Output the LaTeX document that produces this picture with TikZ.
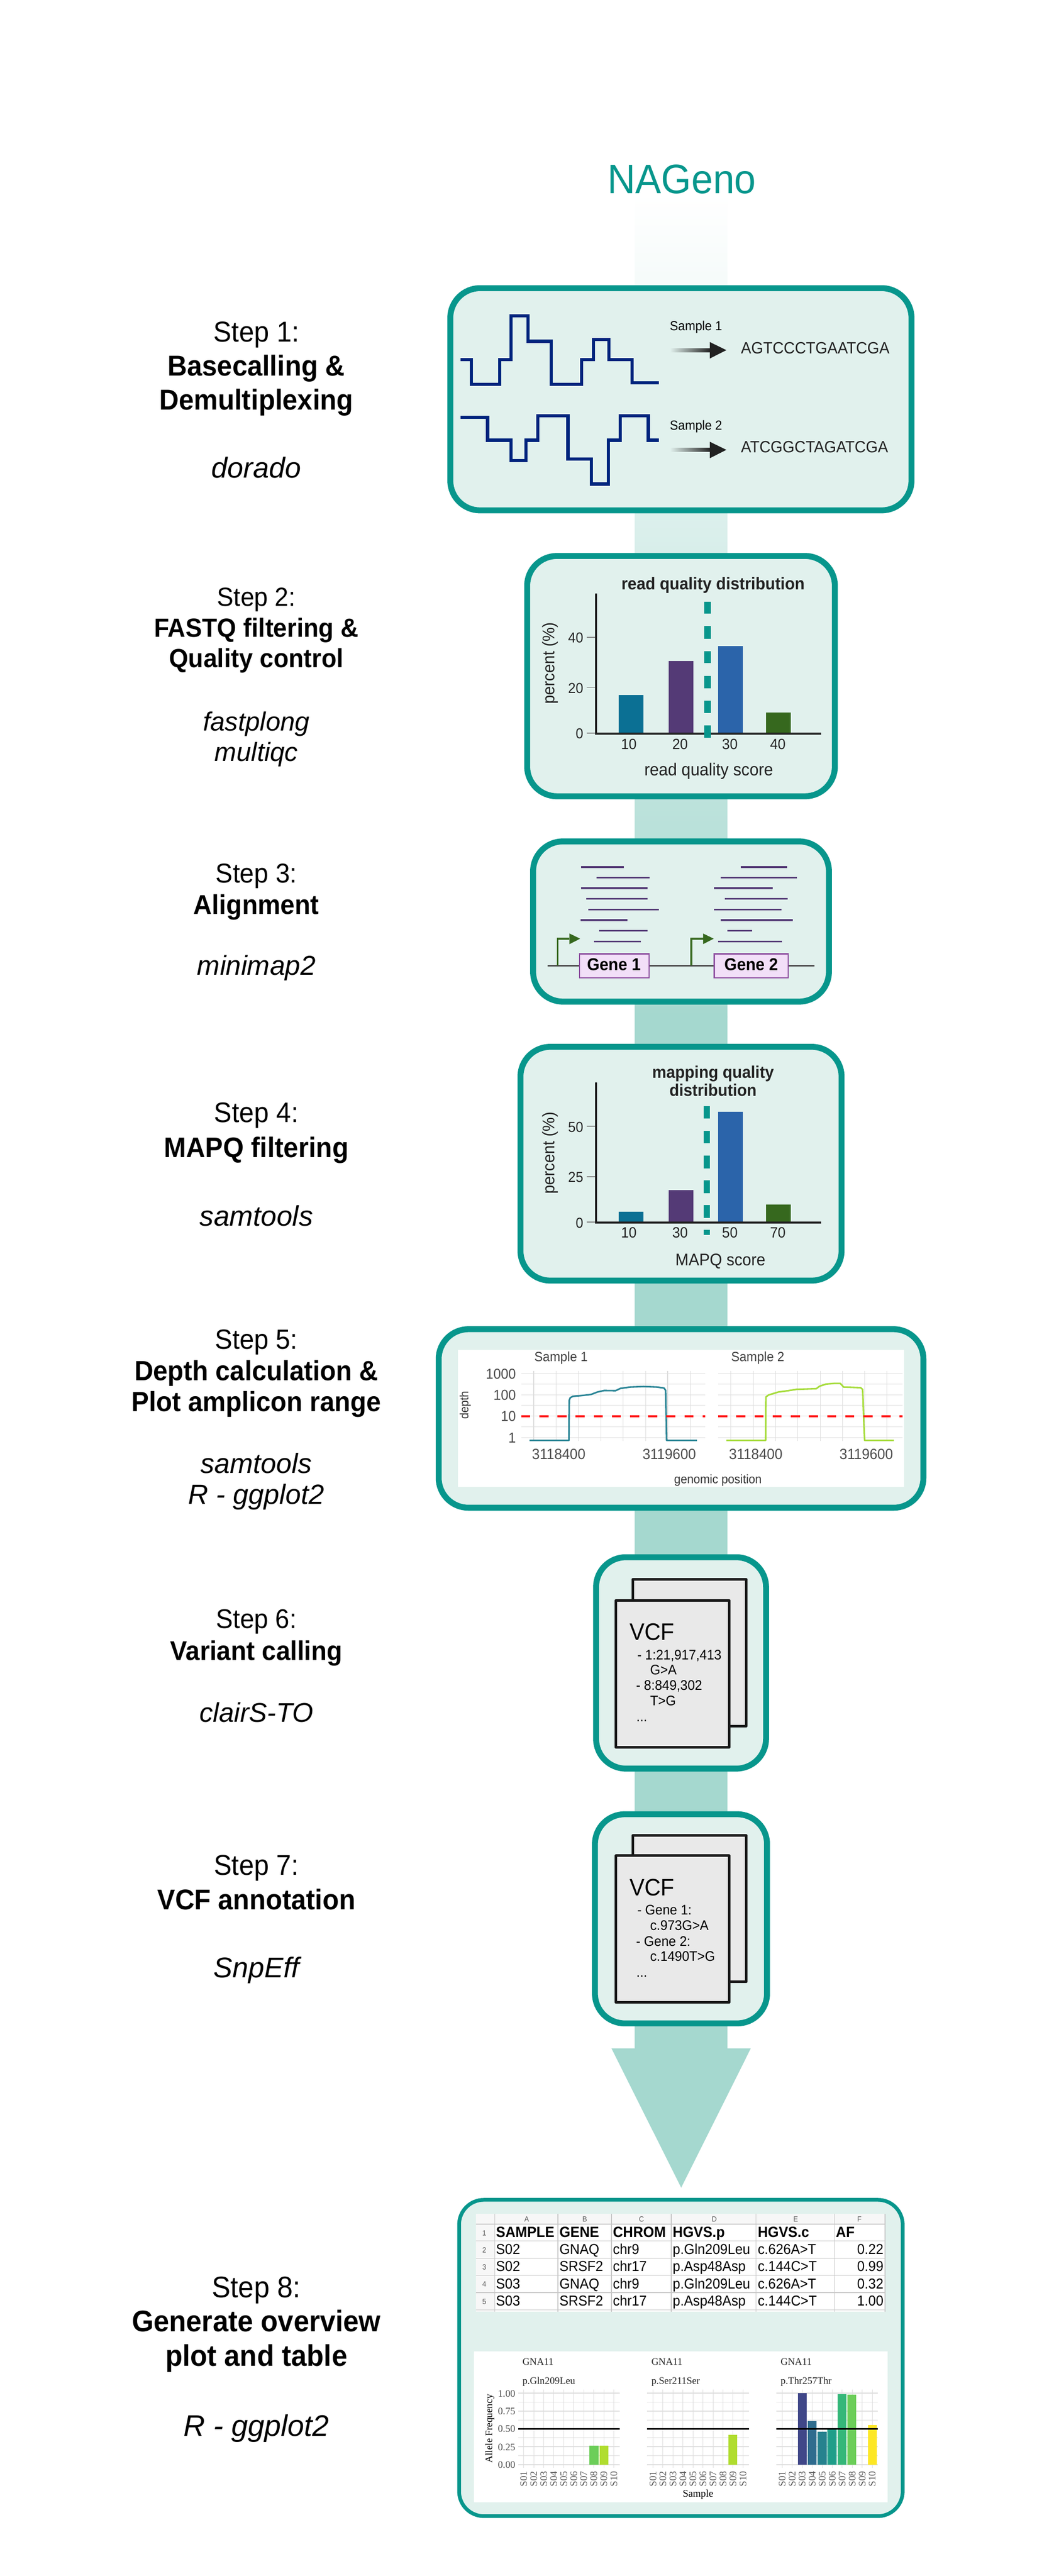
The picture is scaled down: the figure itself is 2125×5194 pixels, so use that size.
\documentclass[tikz,border=0pt]{standalone}
\usepackage{fontspec}
\setmainfont[FakeStretch=0.94]{Liberation Sans}
\newfontfamily\toolfont{Liberation Sans}
\newfontfamily\plotserif{Liberation Serif}
\newdimen\fdim \newdimen\fdimb \newdimen\pxu \pxu=0.2845pt
\newcommand\fpx[1]{\fdim=#1\pxu \fdimb=1.2\fdim \fontsize{\the\fdim}{\the\fdimb}\selectfont}
\newcommand\fpxl[2]{\fdim=#1\pxu \fdimb=#2\pxu \fontsize{\the\fdim}{\the\fdimb}\selectfont}
\newcommand\tool[1]{{\toolfont\itshape #1}}
\definecolor{tealc}{HTML}{07968C}
\definecolor{boxfill}{HTML}{E1F1ED}
\definecolor{barc}{HTML}{A5D8CF}
\definecolor{sig}{HTML}{00247D}
\definecolor{ink}{HTML}{222222}
\definecolor{b1}{HTML}{0B7094}
\definecolor{b2}{HTML}{543A76}
\definecolor{b3}{HTML}{2B64AA}
\definecolor{b4}{HTML}{36681E}
\definecolor{pagef}{HTML}{E9E9E9}
\definecolor{gridc}{HTML}{DDDDDD}
\definecolor{genef}{HTML}{F2DFF8}
\definecolor{gened}{HTML}{8E4FA0}
\definecolor{cov1}{HTML}{2A8596}
\definecolor{cov2}{HTML}{A6DC3C}
\definecolor{redl}{HTML}{FF1A1A}
\definecolor{v3}{HTML}{404788}
\definecolor{v4}{HTML}{2F6C8E}
\definecolor{v5}{HTML}{26828E}
\definecolor{v6}{HTML}{1F9E89}
\definecolor{v7}{HTML}{35B779}
\definecolor{v8}{HTML}{6CCE59}
\definecolor{v9}{HTML}{B0DD2F}
\definecolor{v10}{HTML}{FDE725}
\tikzset{
  lw/.style={line width=#1*0.2845pt},
  txt/.style={inner sep=0pt,outer sep=0pt},
  stepbox/.style={draw=tealc,fill=boxfill,rounded corners=0.6cm,lw=12,inner sep=0pt},
  axisline/.style={draw=ink,lw=4},
  tickline/.style={draw=gray,lw=1.5},
  vcfpage/.style={draw=black!90,fill=pagef,lw=5.2,line join=round},
  sigline/.style={draw=sig,lw=6.5,line join=miter},
  readline/.style={draw=b2,lw=3.5},
  smallarrow/.style={fill=ink},
  gridmajor/.style={draw=gridc,lw=1.6},
  gridminor/.style={draw=gridc,lw=1},
  tablegrid/.style={draw=black!22,lw=1.4},
  genebox/.style={fill=genef,draw=gened,lw=2.5},
}
% #2..#5 are the outer edges of the stroke, #7 the stroke width
\newcommand\boxnode[7][]{%
  \pgfmathsetmacro\bw{(#4-#2-#7)*0.01}\pgfmathsetmacro\bh{(#5-#3-#7)*0.01}%
  \node[stepbox,minimum width=\bw cm,minimum height=\bh cm,#1] (#6) at ({(#2+#4)/2},{(#3+#5)/2}) {};}
\newcommand\steplabel[5]{\node[txt,anchor=base] (#1) at (517,#2) {\fpxl{#3}{#4}\begin{tabular}[t]{@{}c@{}}#5\end{tabular}};}
\begin{document}
\begin{tikzpicture}[x=0.01cm,y=-0.01cm]
\useasboundingbox (0,0) rectangle (2125,5194);
\fill[white] (0,0) rectangle (2125,5194);
% central band
\coordinate (tip) at (1373.6,4411);
\shade[top color=white,bottom color=barc] (1280,390) rectangle (1467,2051);
\fill[barc] (1280,2050) -- (1467,2050) -- (1467,4130) -- (1514,4130) -- (tip) -- (1233,4130) -- (1280,4130) -- cycle;
\node[txt,anchor=base,text=tealc,font=\fpx{83}] (title) at (1375,390.5) {NAGeno};
% step labels
\steplabel{s1}{689}{58}{68.5}{Step 1:\\\textbf{Basecalling \&}\\\textbf{Demultiplexing}\\[68.5\pxu]\tool{dorado}}
\steplabel{s2}{1222}{53}{62}{Step 2:\\\textbf{FASTQ filtering \&}\\\textbf{Quality control}\\[65\pxu]\tool{fastplong}\\\tool{multiqc}}
\steplabel{s3}{1780}{55}{63}{Step 3:\\\textbf{Alignment}\\[60\pxu]\tool{minimap2}}
\steplabel{s4}{2262.5}{57}{71.5}{Step 4:\\\textbf{MAPQ filtering}\\[66.5\pxu]\tool{samtools}}
\steplabel{s5}{2720.5}{56}{62.5}{Step 5:\\\textbf{Depth calculation \&}\\\textbf{Plot amplicon range}\\[62.5\pxu]\tool{samtools}\\\tool{R - ggplot2}}
\steplabel{s6}{3283}{54.5}{64}{Step 6:\\\textbf{Variant calling}\\[61\pxu]\tool{clairS-TO}}
\steplabel{s7}{3780.7}{57.5}{70}{Step 7:\\\textbf{VCF annotation}\\[67\pxu]\tool{SnpEff}}
\steplabel{s8}{4632}{60}{69.5}{Step 8:\\\textbf{Generate overview}\\\textbf{plot and table}\\[71.5\pxu]\tool{R - ggplot2}}
% boxes
\boxnode{902}{575}{1844}{1035}{box1}{12}
\boxnode{1057}{1115}{1689.5}{1611.5}{box2}{12}
\boxnode{1069}{1690.5}{1677.5}{2025.5}{box3}{12}
\boxnode{1043.5}{2104.7}{1703}{2588}{box4}{12}
\boxnode{878.6}{2674}{1868}{3046}{box5}{12}
\boxnode{1196}{3133.8}{1550.7}{3572}{box6}{12}
\boxnode{1193.7}{3652}{1552.7}{4085.7}{box7}{12}
\boxnode[lw=7.5,rounded corners=0.5cm]{922}{4431.7}{1824}{5077}{box8}{7.5}
% box 1 content
\begin{scope}[shift={(850,280)},xscale=0.6697,yscale=0.5102]
\draw[sigline] (118,873)--(150,873)--(150,970)--(235,970)--(235,873)--(270,873)--(270,700)--(321,700)--(321,800)--(391,800)--(391,970)--(482,970)--(482,873)--(518,873)--(518,793)--(564,793)--(564,873)--(634,873)--(634,964)--(714,964);
\draw[sigline] (118,1100)--(199,1100)--(199,1191)--(270,1191)--(270,1272)--(315,1272)--(315,1191)--(350,1191)--(350,1094)--(441,1094)--(441,1265)--(512,1265)--(512,1364)--(563,1364)--(563,1191)--(598,1191)--(598,1094)--(683,1094)--(683,1191)--(714,1191);
\node[txt,anchor=base west,font=\fpx{26.5}] (samp1) at (748,757) {Sample 1};
\node[txt,anchor=base west,font=\fpx{26.5}] (samp2) at (748,1150) {Sample 2};
\shade[left color=boxfill,right color=ink] (748,828) rectangle (870,842);
\fill[smallarrow] (868,803)--(918,835)--(868,868)--cycle;
\shade[left color=boxfill,right color=ink] (748,1222) rectangle (870,1236);
\fill[smallarrow] (868,1197)--(918,1229)--(868,1262)--cycle;
\node[txt,anchor=base west,font=\fpx{33},text=ink] (seq1) at (962,848) {AGTCCCTGAATCGA};
\node[txt,anchor=base west,font=\fpx{33},text=ink] (seq2) at (962,1240) {ATCGGCTAGATCGA};
\end{scope}
% box 2 and 3 content
\begin{scope}[shift={(1000,1080)},xscale=0.4785,yscale=0.6124]
\node[txt,anchor=base,font=\fpx{34.5}\bfseries,text=ink] (t2) at (915,178) {read quality distribution};
\fill[b1] (517,524) rectangle (622,650);
\fill[b2] (728,412) rectangle (832,650);
\fill[b3] (937,364) rectangle (1041,650);
\fill[b4] (1138,583) rectangle (1243,650);
\draw[axisline] (422,190)--(422,652);
\draw[axisline] (418,652)--(1370,652);
\foreach \yy/\lab in {335/40,500/20,650/0}{
  \draw[tickline] (382,\yy)--(418,\yy);
  \node[txt,anchor=east,font=\fpx{29},text=ink] (t2y\lab) at (368,\yy+2) {\lab};
}
\foreach \a/\b in {217/257,298/339,380/420,462/502,543/584,625/665}
  \fill[tealc] (878,\a) rectangle (905,\b);
\foreach \xx/\lab in {560/10,776/20,986/30,1188/40}
  \node[txt,anchor=base,font=\fpx{30},text=ink] (t2x\lab) at (\xx,703) {\lab};
\node[txt,anchor=base,font=\fpx{35},text=ink] (x2) at (897,790) {read quality score};
\node[txt,rotate=90,font=\fpx{34},text=ink] (y2) at (228,420) {percent (\%)};
% reads
\foreach \yy/\a/\b in {1091/358/540,1126/423/648,1161/358/639,1196/381/639,1231/390/686,1266/357/555,1301/434/639,1336/414/610,
  1091/1031/1228,1126/948/1269,1161/920/1167,1196/964/1230,1231/920/1203,1266/947/1251,1301/975/1079,1336/936/1205}
  \draw[readline] (\a,\yy)--(\b,\yy);
\coordinate (genel) at (218,1416);
\coordinate (gener) at (1342,1416);
\draw[draw=black!70,lw=3.5] (genel)--(gener);
\foreach \xa/\xb/\xc in {260/310/355,824/873/918}{
  \draw[draw=b4,lw=4] (\xa,1416)--(\xa,1327)--(\xb,1327);
  \fill[b4] (\xb,1310)--(\xc,1327)--(\xb,1345)--cycle;
}
\draw[genebox] (353,1377) rectangle (645,1456);
\draw[genebox] (920,1377) rectangle (1232,1456);
\node[txt,font=\fpx{34.5}\bfseries] (g1) at (497,1412) {Gene 1};
\node[txt,font=\fpx{34.5}\bfseries] (g2) at (1076,1412) {Gene 2};
\end{scope}
% box 4 content
\begin{scope}[shift={(1000,2060)},xscale=0.4785,yscale=0.3954]
\node[txt,anchor=base,font=\fpx{34}\bfseries,text=ink] (t4a) at (915,288) {mapping quality};
\node[txt,anchor=base,font=\fpx{34}\bfseries,text=ink] (t4b) at (915,380) {distribution};
\fill[b1] (517,970) rectangle (622,1021);
\fill[b2] (728,858) rectangle (832,1021);
\fill[b3] (937,460) rectangle (1041,1021);
\fill[b4] (1138,933) rectangle (1243,1021);
\draw[axisline,lw=4.5] (422,310)--(422,1026);
\draw[axisline,lw=4.5] (418,1025)--(1370,1025);
\foreach \yy/\lab in {533/50,790/25,1022/0}{
  \draw[tickline] (382,\yy)--(418,\yy);
  \node[txt,anchor=east,font=\fpx{29},text=ink] (t4y\lab) at (368,\yy+4) {\lab};
}
\foreach \a/\b in {431/495,557/621,684/748,810/874,936/1000,1062/1087}
  \fill[tealc] (875,\a) rectangle (901,\b);
\foreach \xx/\lab in {560/10,776/30,986/50,1188/70}
  \node[txt,anchor=base,font=\fpx{30},text=ink] (t4x\lab) at (\xx,1102) {\lab};
\node[txt,anchor=base,font=\fpx{34},text=ink] (x4) at (946,1243) {MAPQ score};
\node[txt,rotate=90,font=\fpx{34},text=ink] (y4) at (228,670) {percent (\%)};
\end{scope}
% box 5 content
\begin{scope}[shift={(860,2660)},xscale=0.6633,yscale=0.3333]
\fill[white] (95,186) rectangle (1452,1014);
\foreach \xa/\xb in {288/848,887/1447}{
  \foreach \yy in {326,457,586,716} \draw[gridmajor] (\xa,\yy)--(\xb,\yy);
  \foreach \yy in {392,521,651} \draw[gridminor] (\xa,\yy)--(\xb,\yy);
}
\foreach \xx in {326,461,598,733,925,1061,1197,1332} \draw[gridmajor,lw=1.2] (\xx,312)--(\xx,736);
\foreach \xx in {394,530,666,802,993,1129,1264,1400} \draw[gridminor,lw=0.8] (\xx,312)--(\xx,736);
\draw[draw=cov1,lw=3.2,line join=round] (313,733)--(433,733)--(434,490)--(437,475)--(445,466)--(470,462)--(500,455)--(520,440)--(540,431)--(575,432)--(590,418)--(620,410)--(660,407)--(700,410)--(722,416)--(727,430)--(730,733)--(822,733);
\draw[draw=cov2,lw=3.2,line join=round] (912,733)--(1031,733)--(1032,470)--(1040,458)--(1070,440)--(1100,432)--(1125,424)--(1185,420)--(1195,405)--(1215,392)--(1240,388)--(1258,388)--(1268,410)--(1320,414)--(1326,425)--(1330,650)--(1332,733)--(1421,733);
\foreach \xa/\xb in {288/848,887/1447}
  \draw[draw=redl,lw=4,dash pattern=on 5.2pt off 5.2pt] (\xa,586)--(\xb,586);
\node[txt,anchor=base,font=\fpx{27},text=black!75] (d1) at (409,255) {Sample 1};
\node[txt,anchor=base,font=\fpx{27},text=black!75] (d2) at (1007,255) {Sample 2};
\foreach \yy/\lab in {330/1000,458/100,586/10,716/1}
  \node[txt,anchor=east,font=\fpx{29},text=black!70] (dy\lab) at (272,\yy) {\lab};
\node[txt,rotate=90,font=\fpx{24},text=black!80] (dlab) at (118,520) {depth};
\node[txt,anchor=base,font=\fpx{30},text=black!70] (dxa) at (402,848) {3118400};
\node[txt,anchor=base,font=\fpx{30},text=black!70] (dxb) at (738,848) {3119600};
\node[txt,anchor=base,font=\fpx{30},text=black!70] (dxc) at (1001,848) {3118400};
\node[txt,anchor=base,font=\fpx{30},text=black!70] (dxd) at (1337,848) {3119600};
\node[txt,anchor=base,font=\fpx{25},text=black!80] (dxl) at (886,995) {genomic position};
\end{scope}
% box 6 and 7 content
\begin{scope}[shift={(1150,3100)},xscale=0.3333,yscale=0.6378]
\draw[vcfpage] (378,132) rectangle (1064,597);
\draw[vcfpage] (276.5,199) rectangle (960.5,663);
\node[txt,anchor=base west,font=\fpx{48}] (v6) at (360,325) {VCF};
\node[txt,anchor=base west,font=\fpx{28}] (v6a) at (405,386) {- 1:21,917,413};
\node[txt,anchor=base west,font=\fpx{28}] (v6b) at (483,434) {G>A};
\node[txt,anchor=base west,font=\fpx{28}] (v6c) at (398,483) {- 8:849,302};
\node[txt,anchor=base west,font=\fpx{28}] (v6d) at (483,532) {T>G};
\node[txt,anchor=base west,font=\fpx{28}] (v6e) at (400,582) {...};
\draw[vcfpage] (378,942) rectangle (1064,1405);
\draw[vcfpage] (276.5,1006) rectangle (960.5,1470);
\node[txt,anchor=base west,font=\fpx{48}] (v7) at (360,1133) {VCF};
\node[txt,anchor=base west,font=\fpx{28}] (v7a) at (405,1193) {- Gene 1:};
\node[txt,anchor=base west,font=\fpx{28}] (v7b) at (483,1242) {c.973G>A};
\node[txt,anchor=base west,font=\fpx{28}] (v7c) at (398,1292) {- Gene 2:};
\node[txt,anchor=base west,font=\fpx{28}] (v7d) at (483,1340) {c.1490T>G};
\node[txt,anchor=base west,font=\fpx{28}] (v7e) at (400,1390) {...};
\end{scope}
% box 8 table
\begin{scope}[shift={(910,4420)},xscale=0.606,yscale=0.3333]
\fill[white] (83,130) rectangle (1445,722);
\fill[black!3] (83,130) rectangle (1445,192);
\fill[black!3] (83,130) rectangle (145,722);
\foreach \xx in {145,355,533,732,1014,1274,1443} \draw[tablegrid] (\xx,130)--(\xx,722);
\foreach \yy in {295,400,504,608,712} \draw[tablegrid] (83,\yy)--(1445,\yy);
\draw[tablegrid,lw=2] (83,192)--(1445,192);
\foreach \xx/\lab in {251/A,444/B,633/C,875/D,1146/E,1358/F}
  \node[txt,font=\fpx{15},text=black!65] (col\lab) at (\xx,163) {\lab};
\foreach \yy/\lab in {247/1,350/2,454/3,558/4,662/5}
  \node[txt,font=\fpx{15},text=black!65] (row\lab) at (110,\yy) {\lab};
\foreach \xx/\lab/\nm in {149/SAMPLE/a,360/GENE/b,538/CHROM/c,737/HGVS.p/d,1020/HGVS.c/e,1280/AF/f}
  \node[txt,anchor=base west,font=\fpx{30}\bfseries] (h\nm) at (\xx,272) {\lab};
\foreach \yy/\rw/\csa/\cge/\cch/\cpp/\ccc/\caf in {375/2/S02/GNAQ/chr9/p.Gln209Leu/c.626A>T/0.22,479/3/S02/SRSF2/chr17/p.Asp48Asp/c.144C>T/0.99,583/4/S03/GNAQ/chr9/p.Gln209Leu/c.626A>T/0.32,687/5/S03/SRSF2/chr17/p.Asp48Asp/c.144C>T/1.00}{
  \node[txt,anchor=base west,font=\fpx{29}] (c\rw a) at (149,\yy) {\csa};
  \node[txt,anchor=base west,font=\fpx{29}] (c\rw b) at (360,\yy) {\cge};
  \node[txt,anchor=base west,font=\fpx{29}] (c\rw c) at (538,\yy) {\cch};
  \node[txt,anchor=base west,font=\fpx{29}] (c\rw d) at (737,\yy) {\cpp};
  \node[txt,anchor=base west,font=\fpx{29}] (c\rw e) at (1020,\yy) {\ccc};
  \node[txt,anchor=base east,font=\fpx{29}] (c\rw f) at (1438,\yy) {\caf};
}
\end{scope}
% box 8 plots
\begin{scope}[shift={(910,4700)},xscale=0.606,yscale=0.3333]
\fill[white] (76,122) rectangle (1452,1037);
\foreach \xa/\xb/\xo/\pn in {223/560/241/1,652/990/671/2,1081/1419/1101/3}{
  \foreach \yy in {376,484,592,700,808} \draw[gridmajor] (\xa,\yy)--(\xb,\yy);
  \foreach \yy in {430,538,646,754} \draw[gridminor] (\xa,\yy)--(\xb,\yy);
  \foreach \sn [count=\k from 0] in {01,02,03,04,05,06,07,08,09,10}{
    \pgfmathsetmacro\gx{\xo+\k*33.3}
    \draw[gridminor] (\gx,355)--(\gx,828);
    \node[txt,rotate=90,anchor=east,font=\plotserif\fpx{20},text=black!65] (xt\pn-\sn) at (\gx,848) {S\sn};
  }
}
\fill[v8] (460,692) rectangle (490,808);
\fill[v9] (493,692) rectangle (523,808);
\fill[v9] (923,629) rectangle (952,808);
\fill[v3] (1153,376) rectangle (1182,808);
\fill[v4] (1186,545) rectangle (1216,808);
\fill[v5] (1219,609) rectangle (1249,808);
\fill[v6] (1252,586) rectangle (1282,808);
\fill[v7] (1286,382) rectangle (1315,808);
\fill[v8] (1319,385) rectangle (1348,808);
\fill[v10] (1386,568) rectangle (1415,808);
\foreach \xa/\xb in {223/560,652/990,1081/1419}
  \draw[draw=black,lw=2.4] (\xa,592)--(\xb,592);
\foreach \xx/\lab/\nm in {237/p.Gln209Leu/a,666/p.Ser211Ser/b,1096/p.Thr257Thr/c}{
  \node[txt,anchor=base west,font=\plotserif\fpx{20},text=black!85] (gn\nm) at (\xx,205) {GNA11};
  \node[txt,anchor=base west,font=\plotserif\fpx{20},text=black!85] (pn\nm) at (\xx,320) {\lab};
}
\foreach \yy/\lab/\nm in {378/1.00/a,486/0.75/b,592/0.50/c,702/0.25/d,810/0.00/e}
  \node[txt,anchor=east,font=\plotserif\fpx{20},text=black!70] (py\nm) at (213,\yy) {\lab};
\node[txt,rotate=90,font=\plotserif\fpx{20}] (pyl) at (128,590) {Allele Frequency};
\node[txt,anchor=base,font=\plotserif\fpx{20.5}] (pxl) at (821,1003) {Sample};
\end{scope}
\end{tikzpicture}
\end{document}
